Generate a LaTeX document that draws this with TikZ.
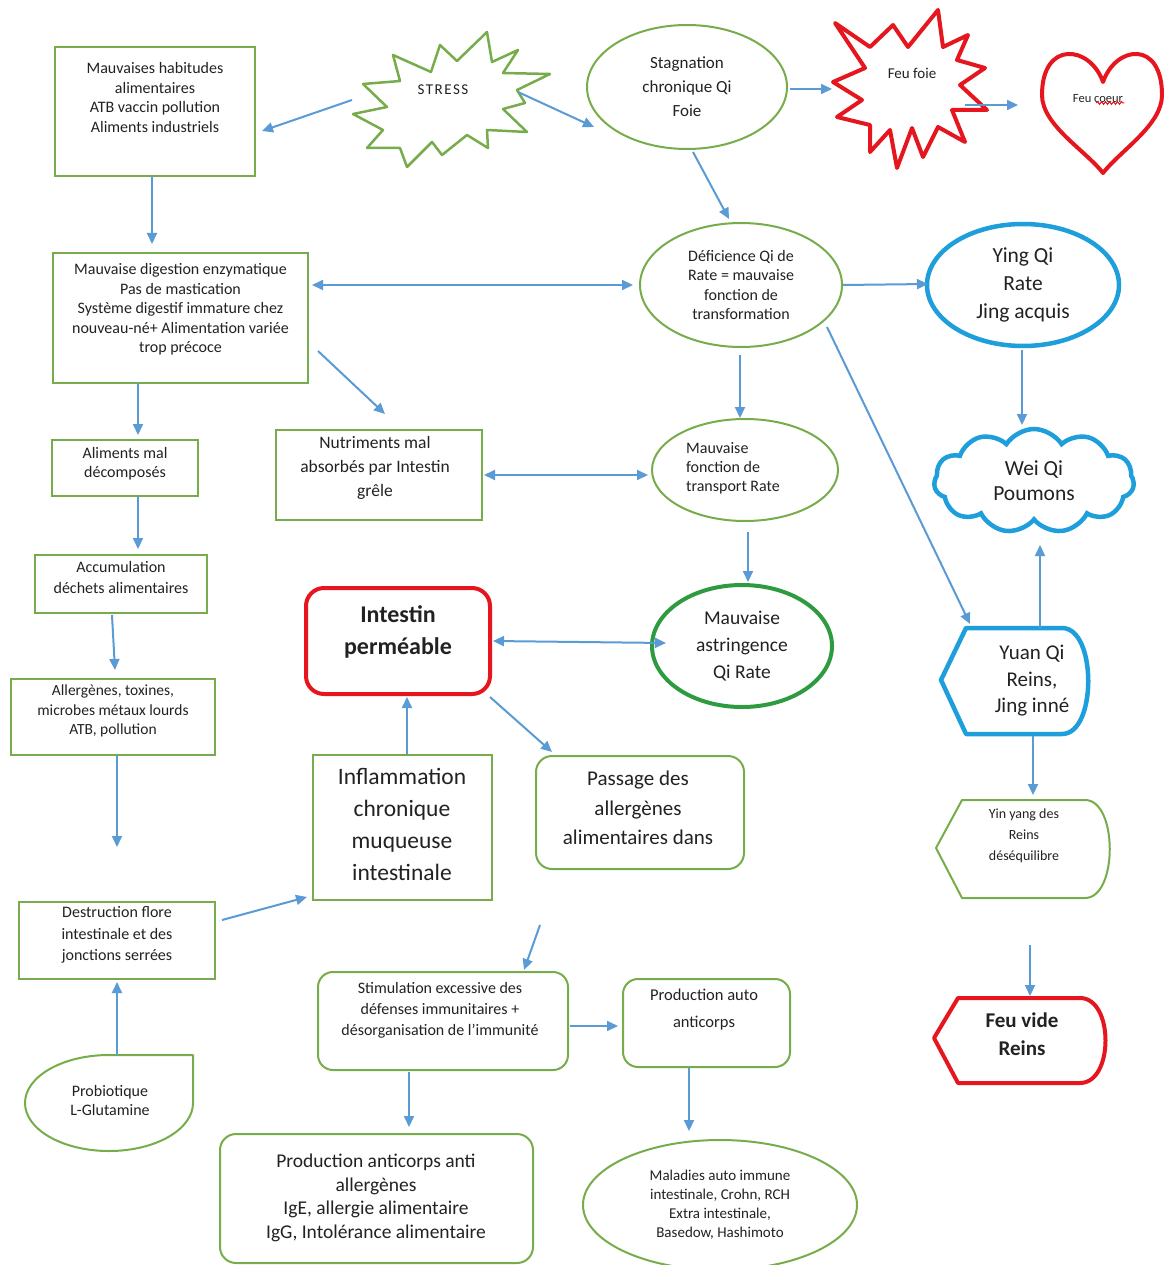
\documentclass[tikz,border=0pt]{standalone}
\usepackage{fontspec}
\setmainfont{Carlito}
\usetikzlibrary{arrows.meta,shapes.geometric,shapes.symbols,calc,decorations.pathmorphing}
\definecolor{grn}{HTML}{77AC4A}
\definecolor{arrblue}{HTML}{5B9BD5}
\definecolor{cyanb}{HTML}{1E9FDB}
\definecolor{redc}{HTML}{E6161E}
\definecolor{dkgrn}{HTML}{2E9B40}
\definecolor{ink}{HTML}{222222}
\newcommand\fsz[2]{\fontsize{#1}{#2}\selectfont}

\begin{document}
\begin{tikzpicture}[x=1pt,y=-1pt,
  gbox/.style={draw=grn, line width=2pt, rectangle, inner sep=0pt},
  rbox/.style={gbox, rounded corners=16pt},
  gell/.style={draw=grn, line width=2pt, ellipse, inner sep=0pt},
  txt/.style={text=ink, align=center, inner sep=0pt},
  t16/.style={txt, font=\fsz{16}{19.6}},
  tip/.style={Triangle[length=11pt,width=10pt]},
  arr/.style={draw=arrblue, line width=2pt, -{Triangle[length=11pt,width=10pt]}},
  darr/.style={draw=arrblue, line width=2pt, {Triangle[length=11pt,width=10pt]}-{Triangle[length=11pt,width=10pt]}},
]
\useasboundingbox[fill=white] (0,0) rectangle (1163,1265);

% ---------- top row ----------
\node[gbox, minimum width=200pt, minimum height=129pt] (habit) at (155,111.5) {};
\node[t16] (habit-t) at (155,97.5) {Mauvaises habitudes\\alimentaires\\ATB vaccin pollution\\Aliments industriels};

% stress burst
\draw[grn, line width=2.5pt, line join=round]
  (353,114) -- (387,107) -- (363,84) -- (400,81) -- (393,55) -- (431,72) -- (440,45)
  -- (457,61) -- (487,32) -- (492,62) -- (518,50) -- (503,73) -- (550,74) -- (517,90)
  -- (525,103) -- (503,109) -- (527,132) -- (487,130) -- (488,148) -- (467,135)
  -- (442,155) -- (432,142) -- (407,167) -- (400,148) -- (367,148) -- (383,130) -- cycle;
\node[txt, font=\fsz{15}{18}\addfontfeature{LetterSpace=10}] (stress) at (443,90) {STRESS};

\node[gell, minimum width=200pt, minimum height=124pt, txt, font=\fsz{17}{24}] (stag) at (687,87)
  {Stagnation\\chronique Qi\\Foie};

% liver fire burst
\draw[redc, line width=4pt, line join=round]
  (835,23) -- (870,47) -- (893,25) -- (908,47) -- (938,10) -- (943,47) -- (968,35)
  -- (957,60) -- (985,68) -- (960,85) -- (987,110) -- (952,110) -- (965,142)
  -- (938,127) -- (923,157) -- (912,128) -- (897,168) -- (890,130) -- (870,152)
  -- (870,125) -- (837,117) -- (862,100) -- (833,82) -- (865,68) -- cycle;
\node[txt, font=\fsz{15}{18}] (feufoie) at (912,73) {Feu foie};

% heart
\draw[redc, line width=4pt, line join=round]
  (1103,82) .. controls (1090,45) and (1042,40) .. (1042,95)
  .. controls (1042,125) and (1085,150) .. (1103,173)
  .. controls (1121,150) and (1162,125) .. (1162,95)
  .. controls (1162,40) and (1116,45) .. (1103,82) -- cycle;
\node[txt, font=\fsz{12.5}{15}] (coeur) at (1098,99) {Feu coeur};
\draw[redc, line width=1pt, decorate, decoration={snake, amplitude=1.3pt, segment length=4pt}]
  ($(coeur.east)+(-27,4)$) -- ($(coeur.east)+(1,4)$);

% ---------- second row ----------
\node[gbox, minimum width=255pt, minimum height=130pt] (digest) at (180.5,318) {};
\node[t16] (digest-t) at (180.5,309.5) {Mauvaise digestion enzymatique\\Pas de mastication\\Système digestif immature chez\\nouveau-né+ Alimentation variée\\trop précoce};

\node[gell, minimum width=202pt, minimum height=124pt, t16] (defic) at (741,285)
  {Déficience Qi de\\Rate = mauvaise\\fonction de\\transformation};

\node[draw=cyanb, line width=4.5pt, ellipse, minimum width=192pt, minimum height=122pt,
  txt, font=\fsz{21.5}{28}] (ying) at (1023,285) {Ying Qi\\Rate\\Jing acquis};

\node[cloud, draw=cyanb, line width=4.5pt, cloud puffs=11, cloud puff arc=115, aspect=1.9,
  minimum width=200pt, minimum height=104pt, txt, font=\fsz{21.5}{25}] (wei) at (1034,481)
  {Wei Qi\\Poumons};

% ---------- third row ----------
\node[gbox, minimum width=146pt, minimum height=56pt] (alim) at (125,468) {};
\node[txt, font=\fsz{16}{19}] (alim-t) at (125,464) {Aliments mal\\décomposés};

\node[gbox, minimum width=206pt, minimum height=90pt] (nutri) at (379,475) {};
\node[txt, font=\fsz{17.5}{24}] (nutri-t) at (375,468) {Nutriments mal\\absorbés par Intestin\\grêle};

\node[gell, minimum width=186pt, minimum height=102pt] (transport) at (745,470) {};
\node[txt, align=left, font=\fsz{16}{19}] (transport-t) at (733,468) {Mauvaise\\fonction de\\transport Rate};

\node[gbox, minimum width=172pt, minimum height=58pt] (accum) at (121,584) {};
\node[txt, font=\fsz{16}{21}] (accum-t) at (121,577) {Accumulation\\déchets alimentaires};

% ---------- middle ----------
\node[draw=redc, line width=4pt, rounded corners=18pt, minimum width=184pt, minimum height=106pt] (intestin) at (398,641) {};
\node[txt, font=\fsz{24}{32}\bfseries] (intestin-t) at (398,632) {Intestin\\perméable};

\node[draw=dkgrn, line width=4pt, ellipse, minimum width=180pt, minimum height=122pt,
  txt, font=\fsz{19.5}{27}] (astring) at (742,646) {Mauvaise\\astringence\\Qi Rate};

\draw[cyanb, line width=4.5pt, line join=round]
  (941,680) -- (966,628) -- (1062,628) .. controls (1097,628) and (1097,734) .. (1062,734)
  -- (966,734) -- cycle;
\node[txt, font=\fsz{21}{26.5}] (yuan) at (1032,681) {Yuan Qi\\Reins,\\Jing inné};

\node[gbox, minimum width=204pt, minimum height=76pt] (allerg) at (113,717) {};
\node[txt, font=\fsz{15.5}{19.5}] (allerg-t) at (113,711) {Allergènes, toxines,\\microbes métaux lourds\\ATB, pollution};

\node[gbox, minimum width=179pt, minimum height=145pt] (inflam) at (402.5,827.5) {};
\node[txt, font=\fsz{23.5}{32}] (inflam-t) at (402,824) {Inflammation\\chronique\\muqueuse\\intestinale};

\node[rbox, minimum width=208pt, minimum height=113pt] (passage) at (640,812.5) {};
\node[txt, font=\fsz{21}{29.5}] (passage-t) at (638,808) {Passage des\\allergènes\\alimentaires dans};

\draw[grn, line width=2pt, line join=round]
  (936,848) -- (962,800) -- (1085,800) .. controls (1118,800) and (1118,898) .. (1085,898)
  -- (962,898) -- cycle;
\node[txt, font=\fsz{14}{21}] (yinyang) at (1024,836) {Yin yang des\\Reins\\déséquilibre};

% ---------- lower part ----------
\node[gbox, minimum width=196pt, minimum height=77pt] (destr) at (117,940.5) {};
\node[txt, font=\fsz{16}{21.5}] (destr-t) at (117,935) {Destruction flore\\intestinale et des\\jonctions serrées};

\draw[grn, line width=2pt, line join=round]
  (193,1055) -- (193,1103) arc[start angle=0, end angle=-270, x radius=84pt, y radius=48pt] -- cycle;
\node[txt, font=\fsz{16}{19}] (probio) at (110,1100) {Probiotique\\L-Glutamine};

\node[rbox, rounded corners=15pt, minimum width=250pt, minimum height=98pt] (stim) at (443,1021) {};
\node[txt, font=\fsz{16}{21}] (stim-t) at (440,1010) {Stimulation excessive des\\défenses immunitaires +\\désorganisation de l’immunité};

\node[rbox, rounded corners=15pt, minimum width=167pt, minimum height=88pt] (prodauto) at (706.5,1023) {};
\node[txt, font=\fsz{16.5}{27}] (prodauto-t) at (704,1010) {Production auto\\anticorps};

\node[rbox, minimum width=313pt, minimum height=129pt] (prodanti) at (376.5,1198.5) {};
\node[txt, font=\fsz{19.5}{23.5}] (prodanti-t) at (376,1198) {Production anticorps anti\\allergènes\\IgE, allergie alimentaire\\IgG, Intolérance alimentaire};

\node[gell, minimum width=274pt, minimum height=130pt, txt, font=\fsz{15}{19}] (maladies) at (720,1205)
  {Maladies auto immune\\intestinale, Crohn, RCH\\Extra intestinale,\\Basedow, Hashimoto};

\draw[redc, line width=4pt, line join=round]
  (934,1038) -- (958,998) -- (1080,998) .. controls (1114,998) and (1114,1083) .. (1080,1083)
  -- (958,1083) -- cycle;
\node[txt, font=\fsz{21}{28}\bfseries] (feuvide) at (1022,1034) {Feu vide\\Reins};

% free arrow ends
\coordinate (allergend) at (117,847);
\coordinate (stimstart) at (540,925);
\coordinate (feuvidestart) at (1030,945);

% ---------- connectors ----------
\draw[arr] ($(stress)+(-91,10)$) -- ($(habit)+(107,19.5)$);
\draw[arr] ($(stress)+(75,2)$) -- ($(stag)+(-93,40)$);
\draw[arr] ($(stag)+(103,2)$) -- ($(feufoie)+(-80,16)$);
\draw[arr] ($(feufoie)+(53,32)$) -- ($(coeur)+(-80,6)$);
\draw[arr] ($(habit)+(-3,64.5)$) -- ($(digest)+(-28.5,-74)$);
\draw[arr] ($(stag)+(6,65)$) -- ($(defic)+(-12,-66)$);
\draw[darr] ($(digest)+(131.5,-33)$) -- ($(defic)+(-108,0)$);
\draw[arr] ($(defic)+(102,0)$) -- ($(ying)+(-95,-1)$);
\draw[arr] ($(digest)+(137.5,33)$) -- ($(nutri)+(6,-61)$);
\draw[arr] ($(digest)+(-42.5,65)$) -- ($(alim)+(13,-33)$);
\draw[arr] ($(defic)+(-1,70)$) -- ($(transport)+(-5,-52)$);
\draw[arr] ($(defic)+(86,42)$) -- ($(yuan)+(-62,-57)$);
\draw[arr] ($(ying)+(-1,65)$) -- ($(wei)+(-12,-56)$);
\draw[arr] ($(alim)+(13,28)$) -- ($(accum)+(17,-35)$);
\draw[darr] ($(nutri)+(105,0)$) -- ($(transport)+(-97,5)$);
\draw[arr] ($(transport)+(3,62)$) -- ($(astring)+(6,-64)$);
\draw[arr] ($(accum)+(-9,31)$) -- ($(allerg)+(2,-47)$);
\draw[darr] ($(intestin)+(95,0)$) -- ($(astring)+(-76,-3)$);
\draw[arr] ($(yuan)+(8,-53)$) -- ($(wei)+(6,64)$);
\draw[arr] ($(yuan)+(1,55)$) -- ($(yinyang)+(9,-41)$);
\draw[arr] ($(allerg)+(4,38)$) -- (allergend);
\draw[arr] ($(inflam)+(4.5,-72.5)$) -- ($(intestin)+(9,56)$);
\draw[arr] ($(intestin)+(92,56)$) -- ($(passage)+(-88,-60.5)$);
\draw[arr] ($(destr)+(105,-20.5)$) -- ($(inflam)+(-95.5,69.5)$);
\draw[arr] ($(probio)+(7,-45)$) -- ($(destr)+(0,41.5)$);
\draw[arr] (stimstart) -- ($(stim)+(81,-51)$);
\draw[arr] ($(stim)+(127,5)$) -- ($(prodauto)+(-88.5,3)$);
\draw[arr] ($(stim)+(-34,51)$) -- ($(prodanti)+(32.5,-71.5)$);
\draw[arr] ($(prodauto)+(-17.5,45)$) -- ($(maladies)+(-31,-74)$);
\draw[arr] (feuvidestart) -- ($(feuvide)+(8,-38)$);
\end{tikzpicture}
\end{document}
